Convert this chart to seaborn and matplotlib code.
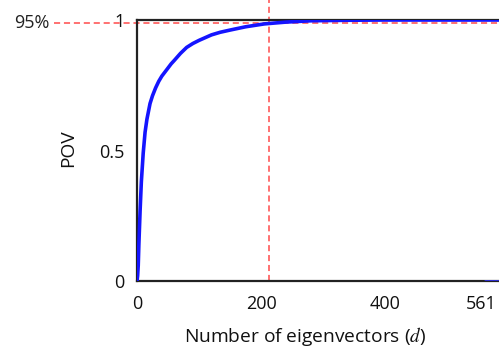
import matplotlib
matplotlib.use("Agg")
import matplotlib.pyplot as plt
import matplotlib.transforms as mtransforms
import seaborn as sns
import pandas as pd

# data
d_values = [0, 1, 2, 3, 5, 7, 10, 13, 16, 21, 25, 30, 35, 40, 48, 55, 60, 70, 80, 90, 100, 120, 134, 151, 175, 205, 240, 280, 340, 400, 480, 561, 600]
pov_values = [0.0, 0.02, 0.06, 0.14, 0.27, 0.38, 0.49, 0.57, 0.62, 0.68, 0.71, 0.74, 0.765, 0.785, 0.81, 0.832, 0.845, 0.872, 0.895, 0.91, 0.922, 0.943, 0.953, 0.962, 0.974, 0.985, 0.992, 0.997, 0.999, 1.0, 1.0, 1.0, 1.0]
tail_d = [561, 600]
tail_pov = [0.0, 0.0]
x_ticks = [0, 200, 400, 561]
y_ticks = [0, 0.5, 1]
y_tick_labels = ["0", "0.5", "1"]
threshold_d = 212
threshold_pov = 0.988
threshold_label = "95%"

sns.set_theme(style="white")
plt.rcParams["font.family"] = ["Open Sans", "DejaVu Sans"]
plt.rcParams["mathtext.fontset"] = "stix"

df = pd.DataFrame({"d": d_values, "POV": pov_values})
tail = pd.DataFrame({"d": tail_d, "POV": tail_pov})

fig = plt.figure(figsize=(4.99, 3.49), dpi=100)
ax = fig.add_axes([137 / 499, 68 / 349, 365 / 499, 261 / 349])

sns.lineplot(data=df, x="d", y="POV", ax=ax, color="#1414ff", linewidth=2.6, zorder=3)
sns.lineplot(data=tail, x="d", y="POV", ax=ax, color="#3030e0", linewidth=2.0, zorder=3)

ax.set_xlim(0, 588)
ax.set_ylim(0, 1)

red = "#ff4a4a"
ax.axvline(threshold_d, ymin=0, ymax=1.08, color=red, linestyle=(0, (4, 2.5)),
           linewidth=1.1, clip_on=False, zorder=2)
ax.axhline(threshold_pov, xmin=-0.227, xmax=1.0, color=red, linestyle=(0, (4, 2.5)),
           linewidth=1.1, clip_on=False, zorder=2)
ax.text(-0.24, threshold_pov, threshold_label, transform=ax.get_yaxis_transform(),
        ha="right", va="center", fontsize=13, color="#222222")

for side in ["left", "bottom", "top"]:
    ax.spines[side].set_color("#222222")
    ax.spines[side].set_linewidth(1.6)
ax.spines["right"].set_visible(False)

ax.set_xticks(x_ticks)
ax.set_xticklabels([str(v) for v in x_ticks])
ax.set_yticks(y_ticks)
ax.set_yticklabels(y_tick_labels)
ax.tick_params(axis="both", which="major", length=3, direction="in", width=0.8,
               labelsize=13, colors="#444444", labelcolor="#111111")
ax.tick_params(axis="x", pad=10)
ax.tick_params(axis="y", pad=9)
last = ax.get_xticklabels()[-1]
last.set_transform(last.get_transform() + mtransforms.ScaledTranslation(-4 / 100, 0, fig.dpi_scale_trans))

ax.set_xlabel("Number of eigenvectors ($d$)", fontsize=13.8, color="#111111")
ax.xaxis.set_label_coords(0.46, -0.17)
ax.set_ylabel("POV", fontsize=13.8, color="#111111")
ax.yaxis.set_label_coords(-0.165, 0.51)

fig.savefig("out.png", dpi=100)
